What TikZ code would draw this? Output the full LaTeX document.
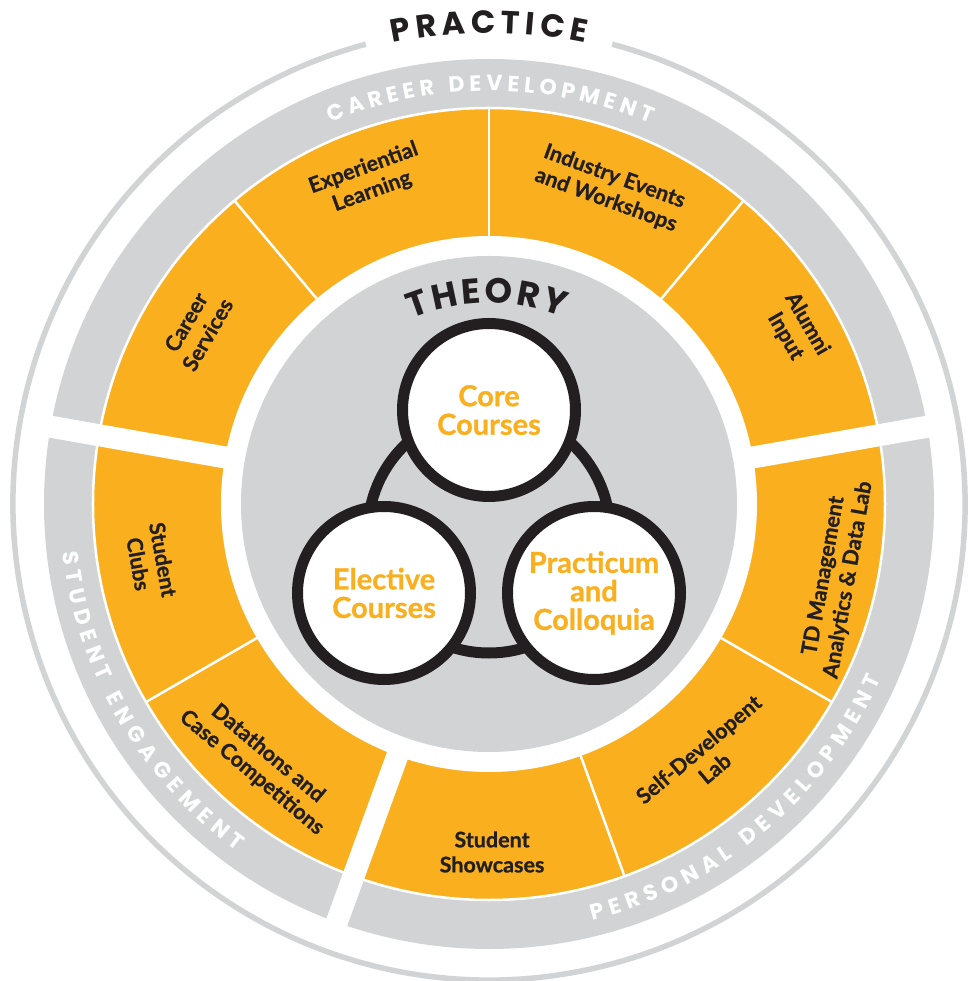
\documentclass[tikz,border=0pt]{standalone}
\usepackage{fontspec}
\setmainfont{Lato}[BoldFeatures={FakeBold=0.8}]
\newfontfamily\headfont{Poppins}
\usepackage{tikz}
\usetikzlibrary{decorations.text}

\definecolor{wheelgray}{HTML}{D1D3D4}
\definecolor{wheelorange}{HTML}{FAB01E}
\definecolor{inkblack}{HTML}{231F20}

\begin{document}
\begin{tikzpicture}[x=1pt, y=1pt,
	cell/.style={align=center, text=inkblack, font=\fontsize{21.5}{25}\selectfont\bfseries},
	course/.style={circle, draw=inkblack, line width=11pt, fill=white, minimum size=173pt, inner sep=0pt, align=center, text=wheelorange, font=\fontsize{29}{28.5}\selectfont\bfseries},
	divider/.style={white, line width=2.5pt},
	gap/.style={white, line width=22pt}]
	\useasboundingbox (-489,-477) rectangle (478,504);

	\draw[wheelgray, line width=5.5pt] (105:476) arc[start angle=105, end angle=435, radius=476];
	\fill[wheelgray] (0,0) circle[radius=445];
	\filldraw[fill=wheelorange, draw=white, line width=2.5pt] (0,0) circle[radius=396];
	\foreach \a in {50,90,130,210,290,330}
		\draw[divider] (\a:268) -- (\a:396);
	\foreach \a in {10,170,250}
		\draw[gap] (\a:240) -- (\a:452);
	\fill[white] (0,0) circle[radius=268];
	\fill[wheelgray] (0,0) circle[radius=248];

	\draw[inkblack, line width=11pt] (0,-28) circle[radius=121];
	\node[course] (core) at (0,94) {Core\\Courses};
	\node[course] (elective) at (-105,-89) {Elective\\Courses};
	\node[course] (practicum) at (105,-89) {Practicum\\and\\Colloquia};

	\node[cell, rotate=60] (services) at (149:341) {Career\\Services};
	\node[cell, rotate=20] (experiential) at (110.5:346) {Experiential\\Learning};
	\node[cell, rotate=-20] (industry) at (69:338) {Industry Events\\and Workshops};
	\node[cell, rotate=-60] (alumni) at (29.5:353) {Alumni\\Input};
	\node[cell, rotate=80] (datalab) at (348:355) {TD Management\\Analytics \& Data Lab};
	\node[cell, rotate=40] (selfdev) at (310.5:335) {Self-Developent\\Lab};
	\node[cell] (showcases) at (270.5:348) {Student\\Showcases};
	\node[cell, rotate=-40] (datathons) at (228.5:346) {Datathons and\\Case Competitions};
	\node[cell, rotate=-80] (clubs) at (189.7:343) {Student\\Clubs};

	\path[decorate, decoration={text along path, text align={fit to path}, text color=inkblack,
		text={|\headfont\bfseries\fontsize{32}{32}\selectfont|PRACTICE}}]
		(101.8:471) arc[start angle=101.8, end angle=78.2, radius=471];
	\path[decorate, decoration={text along path, text align={fit to path}, text color=inkblack,
		text={|\headfont\bfseries\fontsize{35}{35}\selectfont|THEORY}}]
		(112.5:201) arc[start angle=112.5, end angle=68.5, radius=201];
	\path[decorate, decoration={text along path, text align={fit to path}, text color=white,
		text={|\headfont\bfseries\fontsize{22}{22}\selectfont|CAREER DEVELOPMENT}}]
		(112.6:413) arc[start angle=112.6, end angle=67, radius=413];
	\path[decorate, decoration={text along path, text align={fit to path}, text color=white,
		text={|\headfont\bfseries\fontsize{22}{22}\selectfont|STUDENT ENGAGEMENT}}]
		(186.5:429) arc[start angle=186.5, end angle=234, radius=429];
	\path[decorate, decoration={text along path, text align={fit to path}, text color=white,
		text={|\headfont\bfseries\fontsize{22}{22}\selectfont|PERSONAL DEVELOPMENT}}]
		(284:429) arc[start angle=284, end angle=336, radius=429];
\end{tikzpicture}
\end{document}
